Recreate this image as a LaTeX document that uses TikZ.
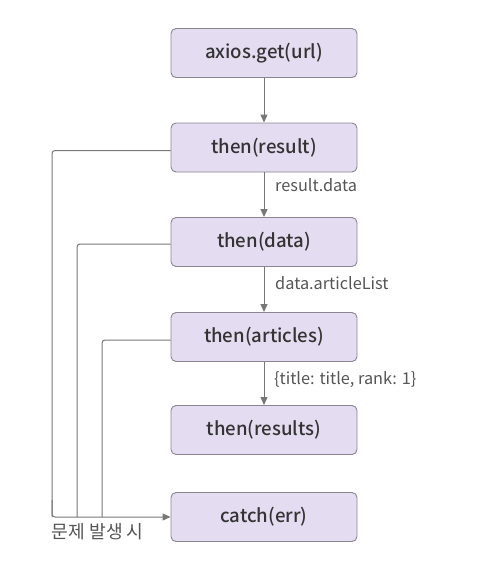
\documentclass[tikz,border=0pt]{standalone}
\usepackage{fontspec}
\setmainfont{Noto Sans CJK KR}
\newfontfamily\medfont{Noto Sans CJK KR Medium}
\usetikzlibrary{arrows.meta}
\definecolor{boxfill}{HTML}{E4DCF0}
\definecolor{boxdraw}{HTML}{8A8590}
\definecolor{linec}{HTML}{777777}
\definecolor{txt}{HTML}{333333}
\definecolor{lbl}{HTML}{555555}
\tikzset{
  stepbox/.style={draw=boxdraw, fill=boxfill, line width=0.9pt, rounded corners=5pt,
    minimum width=186pt, minimum height=49pt, inner sep=0pt,
    font=\medfont\fontsize{18.6}{21}\selectfont, text=txt},
  conn/.style={draw=linec, line width=1pt, -{Triangle[width=7pt,length=8pt]}},
  side/.style={draw=linec, line width=1pt, rounded corners=3pt},
  elabel/.style={font=\fontsize{16.3}{18}\selectfont, text=lbl, anchor=west, inner sep=0pt}
}
\begin{document}
\begin{tikzpicture}[x=1pt,y=-1pt]
\useasboundingbox (0,0) rectangle (485,565);
\node[stepbox] (a) at (264,53) {axios.get(url)};
\node[stepbox] (b) at (264,147.5) {then(result)};
\node[stepbox] (c) at (264,242) {then(data)};
\node[stepbox] (d) at (264,337) {then(articles)};
\node[stepbox] (e) at (264,430) {then(results)};
\node[stepbox] (f) at (264,517) {catch(err)};
\draw[conn] (a) -- (b);
\draw[conn] (b) -- (c);
\draw[conn] (c) -- (d);
\draw[conn] (d) -- (e);
\node[elabel] (lb) at (275,185) {result.data};
\node[elabel] (lc) at (275,283) {data.articleList};
\node[elabel] (ld) at (274,380) {\{title: title, rank: 1\}};
\coordinate (j) at (52,517);
\draw[side] ([yshift=-3pt]b.west) -| (j);
\draw[side] ([yshift=-2pt]c.west) -| (77,517);
\draw[side] ([yshift=-3pt]d.west) -| (102,517);
\draw[conn, rounded corners=3pt] (52,500) |- (f.west);
\node[font=\fontsize{18.2}{20}\selectfont, text=lbl, anchor=west, inner sep=0pt] (err) at (51.5,532) {문제 발생 시};
\end{tikzpicture}
\end{document}
